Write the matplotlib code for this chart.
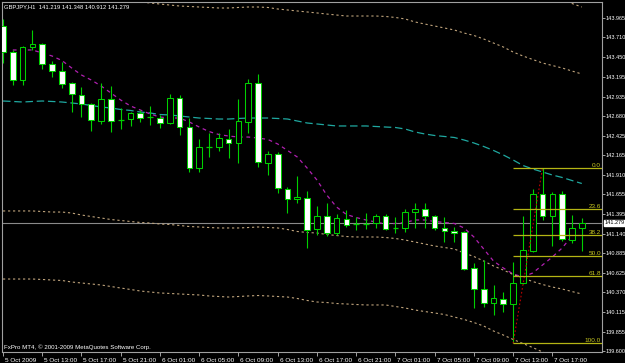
import matplotlib
matplotlib.use("Agg")
import matplotlib.pyplot as plt
import matplotlib.transforms as mtransforms
import numpy as np

# ---------------- data ----------------
symbol = "GBPJPY,H1"
opens = [143.860, 143.519, 143.152, 143.585, 143.624, 143.362, 143.270, 143.113, 142.956, 142.838,
         142.615, 142.903, 142.628, 142.641, 142.720, 142.667, 142.654, 142.589, 142.917, 142.536,
         141.999, 142.274, 142.274, 142.379, 142.327, 142.602, 143.113, 142.065, 142.183, 141.724,
         141.593, 141.606, 141.200, 141.370, 141.147, 141.331, 141.265, 141.265, 141.278, 141.370,
         141.213, 141.213, 141.423, 141.462, 141.370, 141.213, 141.174, 141.160, 140.689, 140.413,
         140.230, 140.282, 140.217, 140.492, 140.911, 141.658, 141.370, 141.658, 141.055, 141.219]
highs = [143.952, 143.546, 143.598, 143.808, 143.637, 143.401, 143.388, 143.126, 143.061, 142.851,
         143.113, 143.074, 142.785, 142.733, 142.759, 142.812, 142.694, 142.969, 142.956, 142.654,
         142.379, 142.458, 142.458, 142.510, 142.903, 143.166, 143.231, 142.222, 142.209, 141.750,
         141.894, 141.698, 141.501, 141.540, 141.396, 141.449, 141.357, 141.410, 141.396, 141.396,
         141.357, 141.462, 141.540, 141.540, 141.383, 141.357, 141.226, 141.174, 140.754, 140.793,
         140.466, 140.374, 140.767, 141.370, 141.724, 142.000, 141.685, 141.698, 141.383, 141.348]
lows = [143.375, 143.087, 143.087, 143.546, 143.297, 143.192, 143.048, 142.733, 142.667, 142.484,
        142.576, 142.471, 142.510, 142.550, 142.602, 142.562, 142.523, 142.576, 142.432, 141.947,
        141.947, 142.143, 142.222, 142.130, 142.065, 142.458, 142.012, 141.908, 141.672, 141.410,
        141.540, 140.951, 141.121, 141.108, 141.121, 141.226, 141.187, 141.200, 141.213, 141.187,
        141.147, 141.160, 141.213, 141.213, 141.187, 141.029, 141.029, 140.662, 140.164, 140.177,
        140.072, 140.112, 139.700, 140.479, 140.898, 141.318, 140.977, 141.042, 141.016, 140.912]
closes = [143.519, 143.152, 143.585, 143.624, 143.362, 143.270, 143.100, 142.969, 142.838, 142.628,
          142.903, 142.615, 142.628, 142.720, 142.654, 142.667, 142.589, 142.917, 142.536, 141.999,
          142.274, 142.274, 142.392, 142.327, 142.615, 143.113, 142.078, 142.183, 141.737, 141.593,
          141.619, 141.187, 141.370, 141.147, 141.344, 141.252, 141.265, 141.265, 141.370, 141.200,
          141.213, 141.423, 141.462, 141.370, 141.213, 141.174, 141.147, 140.676, 140.413, 140.230,
          140.295, 140.217, 140.492, 140.924, 141.658, 141.370, 141.658, 141.069, 141.213, 141.279]

ma_slow = [142.877, 142.871, 142.864, 142.871, 142.877, 142.871, 142.864, 142.851, 142.838, 142.818,
           142.799, 142.785, 142.766, 142.753, 142.733, 142.720, 142.700, 142.694, 142.681, 142.667,
           142.654, 142.648, 142.641, 142.641, 142.648, 142.654, 142.654, 142.654, 142.648, 142.641,
           142.615, 142.589, 142.576, 142.563, 142.550, 142.550, 142.550, 142.550, 142.543, 142.536,
           142.530, 142.510, 142.471, 142.445, 142.425, 142.412, 142.399, 142.366, 142.327, 142.281,
           142.229, 142.170, 142.104, 142.032, 141.986, 141.947, 141.907, 141.875, 141.835, 141.796]

ma_fast_start = 1
ma_fast = [143.546, 143.546, 143.546, 143.506, 143.467, 143.408, 143.310, 143.218, 143.152,
           143.074, 142.982, 142.890, 142.812, 142.759, 142.707, 142.667, 142.654, 142.654, 142.602,
           142.536, 142.477, 142.438, 142.418, 142.405, 142.405, 142.392, 142.373, 142.314, 142.229,
           142.143, 141.999, 141.842, 141.645, 141.488, 141.390, 141.350, 141.318, 141.291, 141.265,
           141.272, 141.285, 141.318, 141.318, 141.298, 141.285, 141.272, 141.213, 141.095, 140.938,
           140.780, 140.689, 140.610, 140.571, 140.623, 140.728, 140.833, 140.951, 141.108]

band_up1 = [144.319, 144.312, 144.306, 144.312, 144.319, 144.312, 144.306, 144.293, 144.280, 144.260,
            144.240, 144.227, 144.207, 144.188, 144.175, 144.162, 144.148, 144.135, 144.122, 144.116,
            144.109, 144.103, 144.096, 144.096, 144.103, 144.109, 144.109, 144.103, 144.083, 144.070,
            144.057, 144.044, 144.031, 144.017, 144.004, 143.991, 143.991, 143.991, 143.991, 143.985,
            143.972, 143.952, 143.913, 143.886, 143.860, 143.834, 143.808, 143.768, 143.736, 143.690,
            143.637, 143.585, 143.519, 143.467, 143.421, 143.375, 143.342, 143.310, 143.270, 143.231]
band_dn1 = [141.436, 141.436, 141.436, 141.436, 141.429, 141.422, 141.422, 141.409, 141.383, 141.363,
            141.344, 141.324, 141.311, 141.298, 141.285, 141.278, 141.265, 141.259, 141.246, 141.232,
            141.226, 141.219, 141.213, 141.213, 141.213, 141.219, 141.226, 141.219, 141.213, 141.193,
            141.167, 141.154, 141.147, 141.128, 141.114, 141.101, 141.095, 141.095, 141.095, 141.088,
            141.075, 141.055, 141.029, 141.003, 140.977, 140.957, 140.938, 140.885, 140.839, 140.780,
            140.715, 140.662, 140.603, 140.557, 140.511, 140.472, 140.439, 140.413, 140.380, 140.348]
band_dn2 = [140.544, 140.544, 140.544, 140.544, 140.538, 140.531, 140.525, 140.505, 140.492, 140.479,
            140.466, 140.446, 140.426, 140.407, 140.387, 140.374, 140.361, 140.355, 140.348, 140.341,
            140.335, 140.322, 140.315, 140.308, 140.315, 140.322, 140.328, 140.322, 140.315, 140.308,
            140.289, 140.263, 140.243, 140.236, 140.223, 140.217, 140.210, 140.204, 140.204, 140.204,
            140.184, 140.164, 140.138, 140.118, 140.099, 140.079, 140.046, 140.014, 139.974, 139.928,
            139.863, 139.810, 139.752, 139.699, 139.646, 139.588, 139.535, 139.483, 139.430, 139.378]
band_up2_start = 54
band_up2 = [144.293, 144.253, 144.214, 144.201, 144.155, 144.109]

time_tick_idx = [0, 4, 8, 12, 16, 20, 24, 28, 32, 36, 40, 44, 48, 52, 56]
time_labels = ["5 Oct 2009", "5 Oct 13:00", "5 Oct 17:00", "5 Oct 21:00", "6 Oct 01:00",
               "6 Oct 05:00", "6 Oct 09:00", "6 Oct 13:00", "6 Oct 17:00", "6 Oct 21:00",
               "7 Oct 01:00", "7 Oct 05:00", "7 Oct 09:00", "7 Oct 13:00", "7 Oct 17:00"]
price_ticks = [143.965, 143.710, 143.450, 143.195, 142.935, 142.680, 142.425, 142.165, 141.910,
               141.655, 141.395, 141.140, 140.885, 140.625, 140.370, 140.115, 139.855, 139.600]

fib_start_idx = 52
fib_high = 142.000
fib_low = 139.700
fib_end_idx = 55
fib_ratios = [0.0, 0.236, 0.382, 0.5, 0.618, 1.0]
fib_labels = ["0.0", "23.6", "38.2", "50.0", "61.8", "100.0"]

copyright_text = "FxPro MT4, \u00a9 2001-2009 MetaQuotes Software Corp."

# ---------------- style ----------------
W, H = 625, 363
fig = plt.figure(figsize=(W / 100, H / 100), dpi=100, facecolor="black")
ax = fig.add_axes([1.7 / W, (H - 352) / H, 600.3 / W, 350.5 / H], facecolor="black")
FONT = "Liberation Sans"
FS = 4.6
FSY = 3.95
FST = 4.2
GREEN = "#00d000"
GRAY = "#a0a0a0"

n = len(opens)
x = np.arange(n)
o = np.array(opens); c = np.array(closes); hi = np.array(highs); lo = np.array(lows)

# bid line
ax.axhline(closes[-1], color="#8a8a8a", lw=0.8, zorder=1)

# indicator lines
ax.plot(x, ma_slow, color="#1fa8a0", lw=0.9, ls=(0, (6, 3)), zorder=2)
ax.plot(np.arange(ma_fast_start, ma_fast_start + len(ma_fast)), ma_fast,
        color="#b020b0", lw=0.9, ls=(0, (3, 3)), zorder=2)
for band in (band_up1, band_dn1, band_dn2):
    ax.plot(x, band, color="#c0a47c", lw=0.8, ls=(0, (2, 2.5)), zorder=2)
ax.plot(np.arange(band_up2_start, band_up2_start + len(band_up2)), band_up2,
        color="#c0a47c", lw=0.8, ls=(0, (2, 2.5)), zorder=2)

# candles
ax.vlines(x, lo, hi, color=GREEN, lw=0.8, zorder=3)
bear = c < o
bull = c > o
doji = c == o
bw = 0.58
ax.bar(x[bear], (o - c)[bear], bottom=c[bear], width=bw, color="white",
       edgecolor=GREEN, linewidth=0.75, zorder=4)
ax.bar(x[bull], (c - o)[bull], bottom=o[bull], width=bw, color="black",
       edgecolor=GREEN, linewidth=0.75, zorder=4)
ax.hlines(o[doji], x[doji] - bw / 2, x[doji] + bw / 2, color=GREEN, lw=0.9, zorder=4)

# fibonacci
ax.plot([fib_start_idx, fib_end_idx], [fib_low, fib_high], color="#c00000",
        lw=0.8, ls=(0, (1.5, 2)), zorder=5)
x_right = 61.06
for r, lab in zip(fib_ratios, fib_labels):
    lvl = fib_high - r * (fib_high - fib_low)
    ax.hlines(lvl, fib_start_idx, x_right, color="#b4b414", lw=0.9, zorder=5)
    ax.text(x_right - 0.1, lvl, lab, color="#c8c820", fontsize=FS, family=FONT,
            ha="right", va="bottom", zorder=6)

# limits
ax.set_xlim(-0.1325, x_right)
ax.set_ylim(139.5876, 144.1812)

# frame
for s in ax.spines.values():
    s.set_color(GRAY)
    s.set_linewidth(0.8)

# x axis
ax.set_xticks(time_tick_idx)
ax.set_xticklabels(time_labels, ha="left", fontsize=FS, family=FONT, color="white")
ax.tick_params(axis="x", colors=GRAY, length=3, width=0.7, pad=1.0, labelcolor="white")
off = mtransforms.ScaledTranslation(2 / 100, 0, fig.dpi_scale_trans)
for lbl in ax.get_xticklabels():
    lbl.set_transform(lbl.get_transform() + off)

# y axis on right
ax.yaxis.tick_right()
ax.set_yticks(price_ticks)
ax.set_yticklabels([f"{v:.3f}" for v in price_ticks], fontsize=FSY, family=FONT)
ax.tick_params(axis="y", colors=GRAY, length=2.0, width=0.7, pad=0.5, labelcolor="white")

# bid price box
ax.annotate(f"{closes[-1]:.3f}", xy=(1.0, closes[-1]), xycoords=("axes fraction", "data"),
            xytext=(2.2, 0), textcoords="offset points", fontsize=FSY, family=FONT,
            color="black", va="center", ha="left",
            bbox=dict(boxstyle="square,pad=0.12", fc="white", ec="white"),
            annotation_clip=False, zorder=10)

# header and footer texts
fig.text(4 / W, 1 - 6.5 / H,
         f"{symbol}  {opens[-1]:.3f} {highs[-1]:.3f} {lows[-1]:.3f} {closes[-1]:.3f}",
         color="white", fontsize=FST, family=FONT, va="center", ha="left")
fig.text(4 / W, 1 - 347 / H, copyright_text, color="white", fontsize=4.4,
         family=FONT, va="center", ha="left")

fig.savefig("out.png", dpi=100, facecolor="black")
